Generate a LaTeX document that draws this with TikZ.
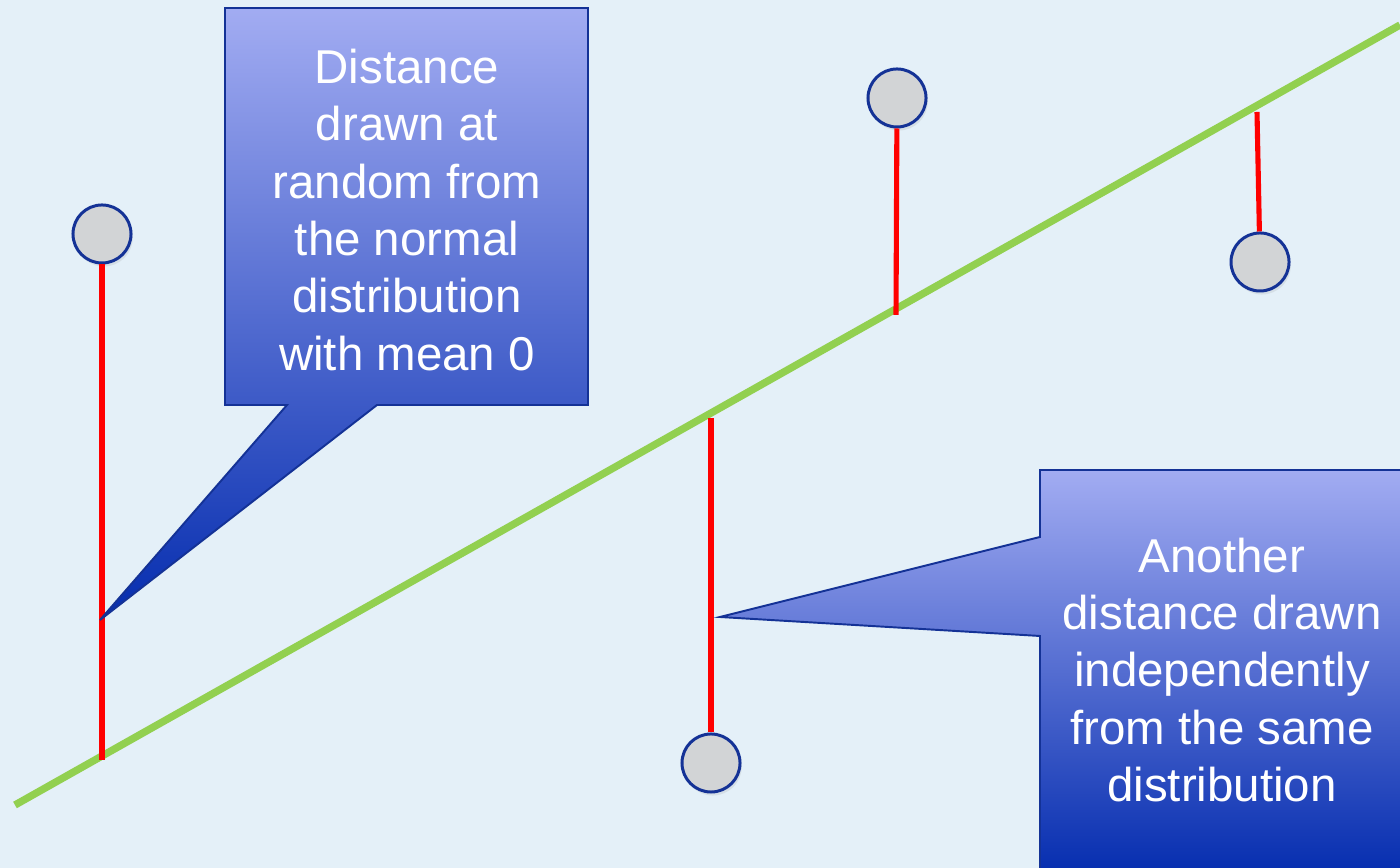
\documentclass[tikz,border=0pt]{standalone}
\usepackage{fontspec}
\setmainfont{Liberation Sans}
\usetikzlibrary{calc,shadows}
\definecolor{bgblue}{RGB}{228,240,248}
\definecolor{ptgray}{RGB}{210,212,214}
\definecolor{rimblue}{RGB}{20,50,150}
\definecolor{fitgreen}{RGB}{146,208,80}
\definecolor{boxtop}{RGB}{162,172,242}
\definecolor{boxmid}{RGB}{128,142,230}
\definecolor{boxbot}{RGB}{5,45,175}
\tikzset{
  pt/.style={circle,draw=rimblue,fill=ptgray,line width=0.85pt,minimum size=0.58cm,inner sep=0pt,
    drop shadow={opacity=0.15,shadow xshift=0.5pt,shadow yshift=-1pt}},
  resid/.style={red,line width=1.45pt},
  fitline/.style={fitgreen,line width=2.1pt},
  callout/.style={draw=rimblue,line width=0.55pt,top color=boxtop,middle color=boxmid,bottom color=boxbot},
  note/.style={text=white,align=center,font=\fontsize{13.5}{16.3}\selectfont},
  every node/.style={font=\small}
}
\begin{document}
\begin{tikzpicture}[x=0.01cm,y=-0.01cm]
\fill[bgblue] (0,0) rectangle (1400,868);
\useasboundingbox (0,0) rectangle (1400,868);
% fitted line
\coordinate (l0) at (15,805);
\coordinate (l1) at (1400,25);
\draw[fitline] (l0) -- (l1);
% points and their feet on the line
\node[pt] (pa) at (102,234) {};
\node[pt] (pb) at (897,98) {};
\node[pt] (pc) at (1260,262) {};
\node[pt] (pd) at (711,763) {};
\coordinate (fa) at (102,760);
\coordinate (fb) at (896,315);
\coordinate (fc) at (1257,112);
\coordinate (fd) at (711,418);
\draw[resid] (pa) -- (fa);
\draw[resid] (pb) -- (fb);
\draw[resid] (pc) -- (fc);
\draw[resid] (pd) -- (fd);
% callouts
\coordinate (tipa) at (100,620);
\coordinate (tipb) at (720,617);
\path[callout] (225,8) -- (588,8) -- (588,405) -- (377,405) -- (tipa) -- (287,405) -- (225,405) -- cycle;
\path[callout] (1040,470) -- (1410,470) -- (1410,875) -- (1040,875) -- (1040,636) -- (tipb) -- (1040,537) -- cycle;
\node[note] (ta) at (407,210) {Distance\\drawn at\\random from\\the normal\\distribution\\with mean 0};
\node[note] (tb) at (1222,670) {Another\\distance drawn\\independently\\from the same\\distribution};
\end{tikzpicture}
\end{document}
